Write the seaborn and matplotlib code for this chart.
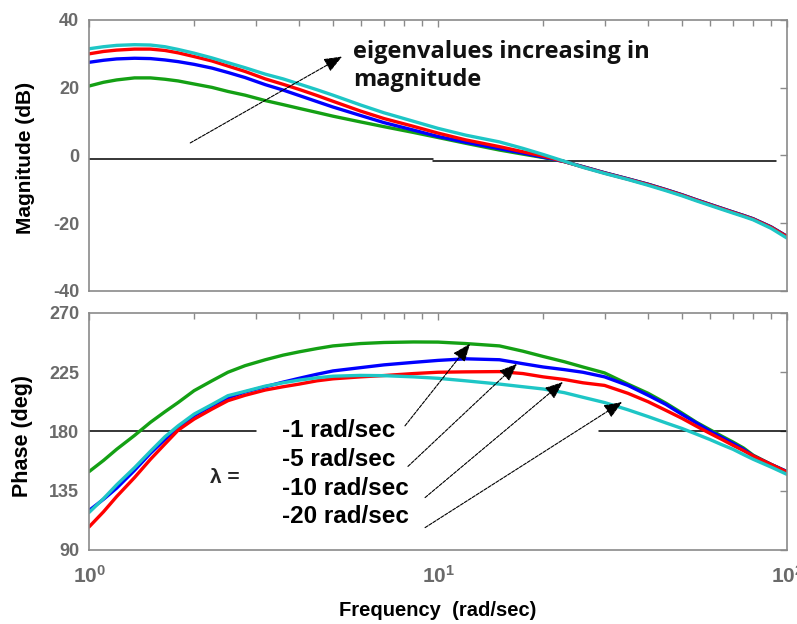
import matplotlib
matplotlib.use("Agg")
import matplotlib.pyplot as plt
import numpy as np
import pandas as pd
import seaborn as sns
from matplotlib.ticker import FixedLocator, FuncFormatter, NullFormatter

# Frequency grid (rad/sec)
freq = [1, 1.1, 1.2, 1.35, 1.5, 1.65, 1.8, 2, 2.25, 2.5,
        2.8, 3.2, 3.6, 4, 4.5, 5, 6, 7, 8.5, 10,
        12, 15, 17.5, 20, 23, 26, 30, 35, 40, 45,
        50, 55, 60, 65, 70, 75, 80, 90, 100]

# Closed-loop eigenvalue cases
eig_labels = ["-1 rad/sec", "-5 rad/sec", "-10 rad/sec", "-20 rad/sec"]
eig_colors = ["#14a014", "#0000ff", "#ff0000", "#1ec6c6"]

# Magnitude (dB)
mag_m1 = [20.5, 21.6, 22.3, 22.9, 22.9, 22.5, 22.0, 21.1, 20.1, 18.9,
          17.8, 16.2, 15.0, 13.9, 12.7, 11.6, 9.9, 8.5, 6.8, 5.3,
          3.6, 1.6, 0.4, -0.6, -1.8, -3.3, -5.1, -6.9, -8.5, -10.1,
          -11.6, -13.1, -14.4, -15.6, -16.7, -17.7, -18.7, -21.1, -23.9]
mag_m5 = [27.5, 28.1, 28.5, 28.7, 28.6, 28.2, 27.7, 26.9, 25.8, 24.5,
          23.0, 20.9, 19.3, 17.7, 15.9, 14.3, 11.8, 9.7, 7.5, 5.6,
          3.9, 2.0, 0.7, -0.5, -1.8, -3.3, -5.1, -6.9, -8.5, -10.1,
          -11.6, -13.1, -14.4, -15.6, -16.7, -17.7, -18.7, -21.1, -23.9]
mag_m10 = [30.0, 30.7, 31.1, 31.4, 31.4, 31.0, 30.3, 29.2, 27.9, 26.4,
           24.8, 22.6, 21.0, 19.5, 17.7, 16.0, 13.1, 10.9, 8.6, 6.6,
           4.6, 2.6, 1.1, -0.2, -1.8, -3.4, -5.2, -7.0, -8.6, -10.2,
           -11.7, -13.2, -14.5, -15.7, -16.8, -17.8, -18.8, -21.2, -24.0]
mag_m20 = [31.5, 32.1, 32.5, 32.7, 32.6, 32.1, 31.3, 30.2, 28.8, 27.4,
           25.9, 24.0, 22.6, 21.1, 19.4, 17.8, 14.9, 12.6, 10.1, 8.0,
           6.0, 4.0, 2.1, 0.3, -1.7, -3.5, -5.3, -7.1, -8.8, -10.4,
           -11.9, -13.4, -14.7, -15.9, -17.0, -18.0, -19.0, -21.5, -24.4]

# Phase (deg)
ph_m1 = [149.5, 158.0, 166.5, 177.0, 187.0, 195.0, 202.0, 211.0, 218.5, 225.0,
         230.0, 234.5, 238.0, 240.5, 243.0, 245.0, 246.8, 247.6, 248.0, 247.9,
         246.8, 245.0, 241.0, 237.0, 233.0, 229.0, 224.5, 216.0, 209.0, 201.5,
         194.0, 187.0, 181.5, 176.5, 172.0, 167.5, 162.0, 155.0, 149.5]
ph_m5 = [120.0, 128.5, 137.0, 150.5, 163.5, 174.0, 183.0, 192.0, 199.5, 205.6,
         210.0, 214.0, 217.5, 220.4, 223.5, 226.0, 228.5, 230.6, 232.5, 234.0,
         235.2, 234.5, 231.5, 229.0, 227.0, 225.0, 221.5, 215.0, 207.5, 200.5,
         193.0, 186.5, 180.5, 175.5, 171.0, 166.5, 161.5, 155.0, 149.5]
ph_m10 = [107.5, 119.0, 130.6, 145.0, 158.9, 170.5, 181.0, 189.4, 197.0, 203.4,
          207.5, 211.5, 214.0, 216.0, 218.5, 220.0, 221.5, 222.5, 224.0, 225.0,
          225.3, 225.5, 224.0, 221.5, 219.5, 217.0, 215.0, 209.0, 202.6, 196.0,
          190.0, 184.0, 178.7, 174.0, 169.5, 165.5, 161.4, 155.0, 149.2]
ph_m20 = [118.5, 129.0, 139.5, 152.5, 165.0, 176.0, 184.3, 193.2, 200.5, 207.2,
          210.5, 214.5, 217.0, 219.0, 220.8, 222.0, 222.6, 222.4, 221.5, 220.4,
          218.5, 216.0, 214.0, 212.3, 209.5, 206.0, 202.0, 196.5, 191.3, 186.5,
          182.3, 178.0, 174.0, 170.0, 166.5, 162.5, 158.9, 153.0, 147.4]

mag_ticks = [-40, -20, 0, 20, 40]
phase_ticks = [90, 135, 180, 225, 270]

mag_series = [mag_m1, mag_m5, mag_m10, mag_m20]
ph_series = [ph_m1, ph_m5, ph_m10, ph_m20]

rows = []
for lab, mags, phs in zip(eig_labels, mag_series, ph_series):
    for f, m, p in zip(freq, mags, phs):
        rows.append({"freq": f, "mag": m, "phase": p, "eig": lab})
df = pd.DataFrame(rows)

sns.set_theme(style="white")
plt.rcParams["font.family"] = ["Liberation Sans", "DejaVu Sans"]
plt.rcParams["axes.unicode_minus"] = False
plt.rcParams["mathtext.fontset"] = "custom"
plt.rcParams["mathtext.bf"] = "Liberation Sans:bold"
plt.rcParams["mathtext.rm"] = "Liberation Sans:bold"

GRAY = "#8a8a8a"
TICKGRAY = "#6a6a6a"

fig = plt.figure(figsize=(7.97, 6.24), dpi=100)
ax1 = fig.add_axes([0.1117, 0.5337, 0.8758, 0.4343])
ax2 = fig.add_axes([0.1117, 0.1186, 0.8758, 0.3798])

palette = dict(zip(eig_labels, eig_colors))
sns.lineplot(data=df, x="freq", y="mag", hue="eig", hue_order=eig_labels,
             palette=palette, estimator=None, sort=False, linewidth=2.4,
             legend=False, ax=ax1)
sns.lineplot(data=df, x="freq", y="phase", hue="eig", hue_order=eig_labels,
             palette=palette, estimator=None, sort=False, linewidth=2.4,
             legend=False, ax=ax2)

# reference lines
ax1.plot([1, 9.7], [-1.1, -1.1], color="black", lw=1.1, zorder=1)
ax1.plot([9.7, 93], [-1.5, -1.5], color="black", lw=1.1, zorder=1)
ax2.plot([1, 3], [180, 180], color="black", lw=1.1, zorder=1)
ax2.plot([29, 100], [180, 180], color="black", lw=1.1, zorder=1)

def decade_label(v, pos):
    e = int(round(np.log10(v)))
    return r"$\mathbf{10^{%d}}$" % e

for ax, ticks, lims in [(ax1, mag_ticks, (-40, 40)), (ax2, phase_ticks, (90, 270))]:
    ax.set_xscale("log")
    ax.set_xlim(1, 100)
    ax.set_ylim(*lims)
    ax.yaxis.set_major_locator(FixedLocator(ticks))
    ax.xaxis.set_major_locator(FixedLocator([1, 10, 100]))
    minors = [m * d for d in (1, 10) for m in range(2, 10)]
    ax.xaxis.set_minor_locator(FixedLocator(minors))
    ax.xaxis.set_minor_formatter(NullFormatter())
    for s in ax.spines.values():
        s.set_color(GRAY)
        s.set_linewidth(1.2)
    ax.tick_params(which="both", direction="in", top=True, right=True,
                   color=GRAY, width=1.0)
    ax.tick_params(which="major", length=5)
    ax.tick_params(which="minor", length=4)
    ax.tick_params(axis="y", labelsize=13, labelcolor=TICKGRAY, pad=7)
    for t in ax.get_yticklabels():
        t.set_fontweight("bold")
    ax.set_xlabel("")
    ax.set_ylabel("")

ax1.xaxis.set_major_formatter(NullFormatter())
ax2.xaxis.set_major_formatter(FuncFormatter(decade_label))
ax2.tick_params(axis="x", labelsize=15, labelcolor=TICKGRAY, pad=11)

ax1.set_ylabel("Magnitude (dB)", fontsize=15, fontweight="bold", color="black")
ax2.set_ylabel("Phase (deg)", fontsize=15.5, fontweight="bold", color="black")
ax1.yaxis.set_label_coords(-0.077, 0.49)
ax2.yaxis.set_label_coords(-0.080, 0.48)
ax2.set_xlabel("Frequency  (rad/sec)", fontsize=14.5, fontweight="bold", color="black")
ax2.xaxis.set_label_coords(0.5, -0.215)

arrow_kw = dict(arrowstyle="-|>,head_length=0.55,head_width=0.22", color="black",
                lw=0.8, linestyle=(0, (3, 1.2)), shrinkA=0, shrinkB=0,
                mutation_scale=20)

# magnitude annotation
ax1.annotate("", xy=(5.31, 29.2), xytext=(1.95, 3.7), arrowprops=arrow_kw)
ax1.text(5.71, 30.6, "eigenvalues increasing in", fontsize=17, fontweight="bold",
         family=["Open Sans", "DejaVu Sans"], ha="left", va="center", color="#111111")
ax1.text(5.71, 22.3, "magnitude", fontsize=17, fontweight="bold",
         family=["Open Sans", "DejaVu Sans"], ha="left", va="center", color="#111111")

# phase annotations
ax2.text(2.22, 145.1, "λ =", fontsize=15, fontweight="bold", ha="left", va="center")
label_y = [180.5, 158.4, 137.0, 115.1]
for lab, y in zip(eig_labels, label_y):
    ax2.text(3.57, y, lab, fontsize=17.5, fontweight="bold", ha="left",
             va="center", color="black")

tails = [(8.04, 184.3), (8.2, 153.5), (9.18, 129.8), (9.18, 107.0)]
heads = [(12.35, 246.6), (16.84, 231.4), (22.8, 217.6), (33.7, 202.4)]
for tl, hd in zip(tails, heads):
    ax2.annotate("", xy=hd, xytext=tl, arrowprops=arrow_kw)

fig.savefig("out.png", dpi=100)
